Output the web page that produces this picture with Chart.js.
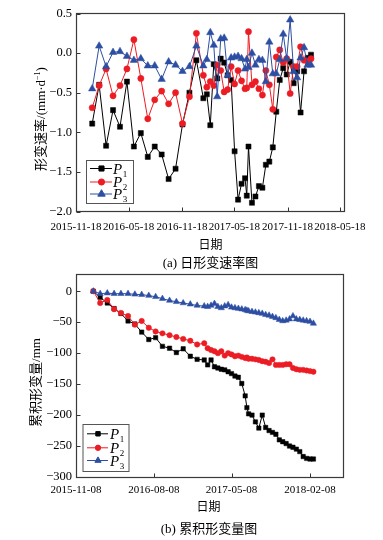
<!DOCTYPE html>
<html><head><meta charset="utf-8">
<script src="https://cdn.jsdelivr.net/npm/chart.js@4.4.1/dist/chart.umd.min.js"></script>
<style>
html,body{margin:0;padding:0;background:#fff;}
#wrap{position:relative;width:383px;height:540px;overflow:hidden;}
.box{position:absolute;left:0;width:383px;height:270px;}
</style></head><body>
<div id="wrap">
<div class="box" style="top:0"><canvas id="c1" width="383" height="270"></canvas></div>
<div class="box" style="top:270px"><canvas id="c2" width="383" height="270"></canvas></div>
</div>
<script>
// ---------- (a) daily deformation rate (mm/d) ----------
const rateDates = ['2016-01-13','2016-02-06','2016-03-01','2016-03-25','2016-04-18','2016-05-12','2016-06-05','2016-06-29','2016-07-23','2016-08-16','2016-09-09','2016-10-03','2016-10-27','2016-11-20','2016-12-14','2017-01-07','2017-01-31','2017-02-12','2017-02-24','2017-03-08','2017-03-20','2017-04-01','2017-04-13','2017-04-25','2017-05-07','2017-05-19','2017-05-31','2017-06-12','2017-06-24','2017-06-30','2017-07-06','2017-07-18','2017-07-30','2017-08-11','2017-08-23','2017-09-04','2017-09-16','2017-09-28','2017-10-10','2017-10-22','2017-11-03','2017-11-15','2017-11-27','2017-12-09','2017-12-21','2018-01-02','2018-01-14','2018-01-26','2018-02-07'];
const rateP1 = [-0.89,-0.40,-1.17,-0.72,-0.93,-0.36,-1.18,-1.01,-1.31,-1.18,-1.28,-1.59,-1.46,-0.90,-0.50,-0.09,-0.57,-0.52,-0.91,-0.14,-0.32,-0.07,-0.12,-0.28,-0.34,-1.24,-1.85,-1.65,-1.58,-1.80,-1.18,-1.89,-1.81,-1.68,-1.70,-1.41,-1.37,-1.19,-0.74,-0.34,-0.19,-0.27,-0.11,-0.38,-0.23,-0.75,-0.23,-0.06,-0.02];
const rateP2 = [-0.69,-0.41,-0.20,-0.54,-0.41,-0.20,0.17,-0.32,-0.83,-0.59,-0.48,-0.64,-0.50,-0.89,-0.55,0.25,-0.28,-0.43,-0.36,-0.41,-0.15,-0.22,-0.49,-0.46,-0.17,-0.39,-0.22,-0.35,-0.45,-0.44,0.27,-0.40,-0.36,-0.45,-0.53,-0.22,-0.40,-0.71,-0.05,0.04,-0.12,-0.07,-0.51,-0.17,-0.17,0.08,-0.09,-0.10,-0.07];
const rateP3 = [-0.45,0.09,-0.17,0.01,0.02,-0.04,-0.09,-0.07,-0.16,-0.16,-0.33,-0.11,-0.15,-0.23,-0.17,0.09,-0.16,-0.08,0.26,0.10,-0.55,0.18,0.19,-0.28,-0.06,-0.05,-0.04,-0.07,-0.20,-0.08,-0.18,0.00,-0.15,-0.08,-0.09,-0.36,0.14,-0.26,-0.26,-0.08,0.24,-0.07,0.42,-0.23,-0.31,-0.06,0.07,-0.15,-0.15];
const rateXTicks = ['2015-11-18','2016-05-18','2016-11-18','2017-05-18','2017-11-18','2018-05-18'];
const rateXRange = ['2015-11-18','2018-06-01'];
const rateYTicks = [-2.0,-1.5,-1.0,-0.5,0.0,0.5];

// ---------- (b) cumulative deformation (mm) ----------
const cumDates = ['2016-01-08','2016-02-01','2016-02-26','2016-03-21','2016-04-14','2016-05-09','2016-06-02','2016-06-26','2016-07-21','2016-08-14','2016-09-07','2016-10-02','2016-10-26','2016-11-19','2016-12-14','2017-01-07','2017-02-01','2017-02-13','2017-02-25','2017-03-09','2017-03-21','2017-04-02','2017-04-14','2017-04-26','2017-05-08','2017-05-20','2017-06-01','2017-06-13','2017-06-25','2017-07-01','2017-07-07','2017-07-19','2017-07-31','2017-08-12','2017-08-24','2017-09-05','2017-09-17','2017-09-29','2017-10-11','2017-10-23','2017-11-04','2017-11-16','2017-11-28','2017-12-10','2017-12-22','2018-01-03','2018-01-15','2018-01-27','2018-02-08','2018-02-20'];
const cumP1 = [0,-10,-19,-28,-36,-48,-53,-66,-78,-75,-89,-92,-99,-93,-105,-110,-111,-119,-111,-122,-124,-126,-127,-130,-133,-137,-139,-149,-169,-188,-198,-200,-211,-221,-200,-220,-225,-228,-231,-240,-243,-246,-250,-252,-255,-259,-267,-270,-271,-271];
const cumP2 = [0,-19,-14,-29,-35,-40,-54,-48,-59,-65,-68,-71,-74,-77,-80,-86,-84,-92,-95,-97,-100,-97,-104,-100,-102,-105,-104,-106,-108,-107,-109,-109,-110,-111,-113,-114,-116,-110,-119,-119,-119,-118,-118,-124,-126,-127,-127,-128,-129,-130];
const cumP3 = [0,-4,-3,-4,-4,-4,-5,-5.5,-7,-9,-12,-15,-17,-19,-21,-23,-24,-25,-23,-20,-25,-27,-24,-22,-26,-27,-28,-29,-30,-31,-32,-33,-34,-35,-36,-38,-39,-41,-43,-46,-48,-47,-45,-40,-45,-46,-47,-48,-49,-52];
const cumXTicks = ['2015-11-08','2016-08-08','2017-05-08','2018-02-08'];
const cumXRange = ['2015-11-08','2018-06-04'];
const cumYTicks = [-300,-250,-200,-150,-100,-50,0];

const seriesNames = ['P1','P2','P3'];
const seriesColors = ['#000000','#ec1c24','#2c4ea3'];
const seriesStyles = ['rect','circle','triangle'];

const SERIF = '"Liberation Serif", "Times New Roman", serif';
const MIXED = '"Liberation Serif", "Noto Sans CJK SC", serif';

function ts(s){ return Date.parse(s); }
function fmtDate(v){ return new Date(v).toISOString().slice(0,10); }
function fmtNum(v, dec){ const s = Math.abs(v).toFixed(dec); return (v < -1e-9 ? '\u2212' : '') + s; }

const decor = {
  id: 'decor',
  afterDraw(chart, args, o) {
    const ctx = chart.ctx, a = chart.chartArea, xs = chart.scales.x, ys = chart.scales.y;
    ctx.save();
    const l = Math.floor(a.left) + 0.5, r = Math.floor(a.right) + 0.5;
    const t = Math.floor(a.top) + 0.5, b = Math.floor(a.bottom) + 0.5;
    ctx.strokeStyle = '#333'; ctx.lineWidth = 1;
    ctx.beginPath();
    xs.ticks.forEach(tk => { const px = Math.round(xs.getPixelForValue(tk.value)) + 0.5; ctx.moveTo(px, b); ctx.lineTo(px, b - 4); });
    ys.ticks.forEach(tk => { const py = Math.round(ys.getPixelForValue(tk.value)) + 0.5; ctx.moveTo(l, py); ctx.lineTo(l + 4, py); });
    ctx.stroke();
    ctx.strokeStyle = '#3a3a3a'; ctx.lineWidth = 1.2;
    ctx.strokeRect(l, t, r - l, b - t);

    // legend
    const L = o.legend;
    ctx.strokeStyle = '#555'; ctx.lineWidth = 1;
    ctx.strokeRect(L.x + 0.5, L.y + 0.5, L.w, L.h);
    chart.data.datasets.forEach((ds, i) => {
      const y = L.rows[i] + 0.5;
      ctx.strokeStyle = ds.borderColor; ctx.lineWidth = 1;
      ctx.beginPath(); ctx.moveTo(L.lx0, y); ctx.lineTo(L.lx1, y); ctx.stroke();
      ctx.fillStyle = ds.pointBackgroundColor; ctx.strokeStyle = ds.pointBorderColor;
      Chart.helpers.drawPoint(ctx, {pointStyle: ds.pointStyle, radius: ds.pointRadius, borderWidth: 1, rotation: 0}, L.mx, y);
      ctx.fillStyle = '#000'; ctx.textAlign = 'left'; ctx.textBaseline = 'alphabetic';
      const name = ds.label;
      ctx.font = 'italic 15px ' + SERIF;
      ctx.fillText(name[0], L.tx, y + 5);
      const w = ctx.measureText(name[0]).width;
      ctx.font = '9px ' + SERIF;
      ctx.fillText(name.slice(1), L.tx + w + 0.5, y + 8);
    });

    // y title (rotated) with superscript support
    const T = o.yTitle;
    ctx.save();
    ctx.translate(T.x, T.y); ctx.rotate(-Math.PI / 2);
    ctx.fillStyle = '#000'; ctx.textBaseline = 'middle'; ctx.textAlign = 'left';
    let total = 0;
    T.parts.forEach(p => { ctx.font = (p.sup ? '8px ' : '13px ') + MIXED; p.w = ctx.measureText(p.t).width; total += p.w; });
    let cx = -total / 2;
    T.parts.forEach(p => { ctx.font = (p.sup ? '8px ' : '13px ') + MIXED; ctx.fillText(p.t, cx, p.sup ? -4 : 0); cx += p.w; });
    ctx.restore();

    // x title and caption
    ctx.fillStyle = '#000'; ctx.textAlign = 'center'; ctx.textBaseline = 'middle';
    ctx.font = '12px ' + MIXED;
    ctx.fillText(o.xTitle.t, o.xTitle.x, o.xTitle.y);
    ctx.font = '13px ' + MIXED;
    ctx.fillText(o.caption.t, o.caption.x, o.caption.y);
    ctx.restore();
  }
};

function makeDatasets(dates, series, radii) {
  return series.map((vals, i) => ({
    label: seriesNames[i],
    data: dates.map((d, k) => ({x: ts(d), y: vals[k]})),
    borderColor: seriesColors[i],
    backgroundColor: seriesColors[i],
    pointBackgroundColor: seriesColors[i],
    pointBorderColor: seriesColors[i],
    pointBorderWidth: 0.5,
    pointStyle: seriesStyles[i],
    pointRadius: radii[i],
    borderWidth: 1,
    tension: 0,
    order: 3 - i
  }));
}

function makeChart(id, cfg) {
  return new Chart(document.getElementById(id), {
    type: 'line',
    data: {datasets: makeDatasets(cfg.dates, cfg.series, cfg.radii)},
    plugins: [decor],
    options: {
      responsive: false, animation: false, events: [],
      layout: {padding: cfg.padding},
      plugins: {legend: {display: false}, tooltip: {enabled: false}, decor: cfg.decor},
      scales: {
        x: {
          type: 'linear', min: ts(cfg.xRange[0]), max: ts(cfg.xRange[1]),
          grid: {display: false, drawTicks: false}, border: {display: false},
          afterBuildTicks: s => { s.ticks = cfg.xTicks.map(d => ({value: ts(d)})); },
          afterFit: s => { s.height = cfg.xHeight; s.paddingLeft = 0; s.paddingRight = 0; },
          ticks: {autoSkip: false, maxRotation: 0, minRotation: 0, padding: cfg.xPad, color: '#000',
                  font: {family: SERIF, size: 11}, callback: v => fmtDate(v)}
        },
        y: {
          min: cfg.yTicks[0], max: cfg.yMax,
          grid: {display: false, drawTicks: false}, border: {display: false},
          afterBuildTicks: s => { s.ticks = cfg.yTicks.map(v => ({value: v})); },
          afterFit: s => { s.width = 76; s.paddingTop = 0; s.paddingBottom = 0; },
          ticks: {padding: 4, color: '#000', font: {family: SERIF, size: 12.5}, callback: v => fmtNum(v, cfg.yDec)}
        }
      }
    }
  });
}

makeChart('c1', {
  dates: rateDates, series: [rateP1, rateP2, rateP3], radii: [3.6, 3.1, 4.3],
  xRange: rateXRange, xTicks: rateXTicks, yTicks: rateYTicks, yMax: 0.5, yDec: 1,
  padding: {left: 0, right: 39, top: 13.5, bottom: 0}, xHeight: 58.5, xPad: 9,
  decor: {
    legend: {x: 86, y: 160, w: 47, h: 43, rows: [168, 181.5, 193.5], lx0: 90, lx1: 112, mx: 101.5, tx: 113},
    yTitle: {x: 42, y: 119, parts: [{t: '形变速率/(mm·d'}, {t: '\u22121', sup: true}, {t: ')'}]},
    xTitle: {t: '日期', x: 210.5, y: 246},
    caption: {t: '(a) 日形变速率图', x: 210.5, y: 264}
  }
});

makeChart('c2', {
  dates: cumDates, series: [cumP1, cumP2, cumP3], radii: [3.1, 2.7, 3.6],
  xRange: cumXRange, xTicks: cumXTicks, yTicks: cumYTicks, yMax: 27, yDec: 0,
  padding: {left: 0, right: 40, top: 4, bottom: 0}, xHeight: 63, xPad: 7,
  decor: {
    legend: {x: 82.5, y: 154, w: 46, h: 47, rows: [163.3, 177.3, 190], lx0: 87, lx1: 108, mx: 98, tx: 110},
    yTitle: {x: 37, y: 112.5, parts: [{t: '累积形变量/mm'}]},
    xTitle: {t: '日期', x: 208.5, y: 238},
    caption: {t: '(b) 累积形变量图', x: 209, y: 260}
  }
});
</script>
</body></html>
